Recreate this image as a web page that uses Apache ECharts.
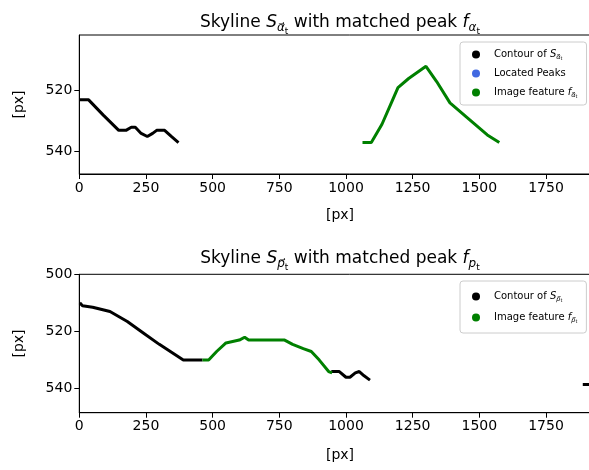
<!DOCTYPE html>
<html><head><meta charset="utf-8">
<script src="https://cdn.jsdelivr.net/npm/echarts@6/dist/echarts.min.js"></script>
<style>html,body{margin:0;padding:0;background:#fff;overflow:hidden}#c{width:660px;height:470px}</style>
</head><body><div id="c"></div>
<script>
// ---- data ----
const xTicks = [0, 250, 500, 750, 1000, 1250, 1500, 1750];
const topYTicks = [520, 540];
const botYTicks = [500, 520, 540];

const topContour = [[2,523],[35,523],[90,528],[148,533],[175,533],[195,532],[210,532],[232,534],[255,535],[275,534],[290,533],[320,533],[345,535],[372,537]];
const topPeaks = [];
const topFeature = [[1062,537],[1095,537],[1135,531],[1175,523],[1195,519],[1235,516],[1300,512],[1340,517],[1390,524],[1450,528.5],[1530,534.5],[1575,537]];

const botContour = [[2,510],[12,511],[50,511.5],[115,513],[180,516.5],[240,520.5],[300,524.5],[390,530],[462,530],null,
  [945,534],[975,534],[1000,536],[1015,536],[1035,534.5],[1050,534],[1068,535.5],[1090,537],null,[1888,538.5],[1920,538.5]];
const botFeature = [[462,530],[485,530],[515,527],[550,524],[600,523],[620,522],[635,523],[770,523],[800,524.5],[840,526],[870,527],[900,530],[935,534],[948,534.5]];

// ---- chart ----
const FONT = 'DejaVu Sans';
const titleRich = {
  i: {fontStyle:'italic', fontSize:17, fontFamily:FONT, color:'#000'},
  s: {fontStyle:'italic', fontSize:12, fontFamily:FONT, color:'#000', padding:[10,0,0,0]},
  ss:{fontSize:9, fontFamily:FONT, color:'#000', padding:[18,0,0,0]}
};
const legRich = {
  i: {fontStyle:'italic', fontSize:10, fontFamily:FONT, color:'#000'},
  s: {fontStyle:'italic', fontSize:6.5, fontFamily:FONT, color:'#000', padding:[5,0,0,0]},
  ss:{fontSize:5, fontFamily:FONT, color:'#000', padding:[9,0,0,0]}
};
const legendNames = {
  'cA':'Contour of {i|S}{s|α⃗}{ss|t}',
  'pk':'Located Peaks',
  'fA':'Image feature {i|f}{s|α⃗}{ss|t}',
  'cP':'Contour of {i|S}{s|p⃗}{ss|t}',
  'fP':'Image feature {i|f}{s|p⃗}{ss|t}'
};
const labelFmt = v => String(v);
const PXU = 0.26667;          // px per data unit (matches the reference scale)
const GRIDW = 540;
const XMAX = GRIDW / PXU;

function xAxis(gi){
  return {gridIndex:gi, type:'value', min:0, max:XMAX,
    axisLine:{show:true, onZero:false, lineStyle:{color:'#000', width:1}},
    axisTick:{show:true, length:5, customValues:xTicks, lineStyle:{color:'#000'}},
    axisLabel:{customValues:xTicks, formatter:labelFmt, color:'#000', fontSize:14, fontFamily:FONT, margin:7},
    splitLine:{show:false}};
}
function yAxis(gi, mn, mx, ticks){
  return {gridIndex:gi, type:'value', min:mn, max:mx, inverse:true,
    axisLine:{show:true, onZero:false, lineStyle:{color:'#000', width:1}},
    axisTick:{show:true, length:5, customValues:ticks, lineStyle:{color:'#000'}},
    axisLabel:{customValues:ticks, formatter:labelFmt, color:'#000', fontSize:14, fontFamily:FONT, margin:7},
    splitLine:{show:false},
    name:'[px]', nameLocation:'middle', nameGap:53, nameRotate:90, nameTextStyle:{color:'#000', fontSize:14, fontFamily:FONT}};
}
function legend(top, data, lh, pad){
  return {orient:'vertical', left:460, top:top, data:data.map(n=>({name:n, icon:'circle'})),
    itemWidth:8, itemHeight:8, itemGap:0, padding:pad,
    borderColor:'#cccccc', borderWidth:1, borderRadius:3, backgroundColor:'rgba(255,255,255,0.8)',
    selectedMode:false,
    formatter: n => legendNames[n],
    textStyle:{fontSize:10, fontFamily:FONT, color:'#000', lineHeight:lh, padding:[0,0,0,9], rich:legRich}};
}
function line(name, data, color, xi){
  return {name:name, type:'line', xAxisIndex:xi, yAxisIndex:xi, data:data, showSymbol:false, symbol:'circle',
    itemStyle:{color:color, opacity:1}, lineStyle:{color:color, width:3}, connectNulls:false, animation:false, silent:true};
}

const chart = echarts.init(document.getElementById('c'), null, {renderer:'canvas'});
chart.setOption({
  animation:false,
  backgroundColor:'#fff',
  title:[
    {text:'Skyline {i|S}{s|α⃗}{ss|t} with matched peak {i|f}{s|α}{ss|t}', left:335, textAlign:'center', top:4,
     textStyle:{fontSize:17, fontFamily:FONT, fontWeight:'normal', color:'#000', rich:titleRich}},
    {text:'Skyline {i|S}{s|p⃗}{ss|t} with matched peak {i|f}{s|p}{ss|t}', left:335, textAlign:'center', top:240,
     textStyle:{fontSize:17, fontFamily:FONT, fontWeight:'normal', color:'#000', rich:titleRich}},
    {text:'[px]', left:335, textAlign:'center', top:203, textStyle:{fontSize:14, fontFamily:FONT, fontWeight:'normal', color:'#000'}},
    {text:'[px]', left:335, textAlign:'center', top:443, textStyle:{fontSize:14, fontFamily:FONT, fontWeight:'normal', color:'#000'}}
  ],
  grid:[
    {left:79.3, top:35, width:GRIDW, height:139, show:true, borderColor:'#000', borderWidth:1, backgroundColor:'transparent'},
    {left:79.3, top:274.3, width:GRIDW, height:138.4, show:true, borderColor:'#000', borderWidth:1, backgroundColor:'transparent'}
  ],
  xAxis:[xAxis(0), xAxis(1)],
  yAxis:[yAxis(0, 501.74, 547.3, topYTicks), yAxis(1, 500, 548.4, botYTicks)],
  legend:[legend(42, ['cA','pk','fA'], 19, [3,9,3,12]), legend(281, ['cP','fP'], 21, [5,9,5,12])],
  series:[
    line('cA', topContour, '#000000', 0),
    {name:'pk', type:'scatter', xAxisIndex:0, yAxisIndex:0, data:topPeaks, itemStyle:{color:'#4169E1', opacity:1}},
    line('fA', topFeature, '#008000', 0),
    line('cP', botContour, '#000000', 1),
    line('fP', botFeature, '#008000', 1)
  ]
});
</script></body></html>
